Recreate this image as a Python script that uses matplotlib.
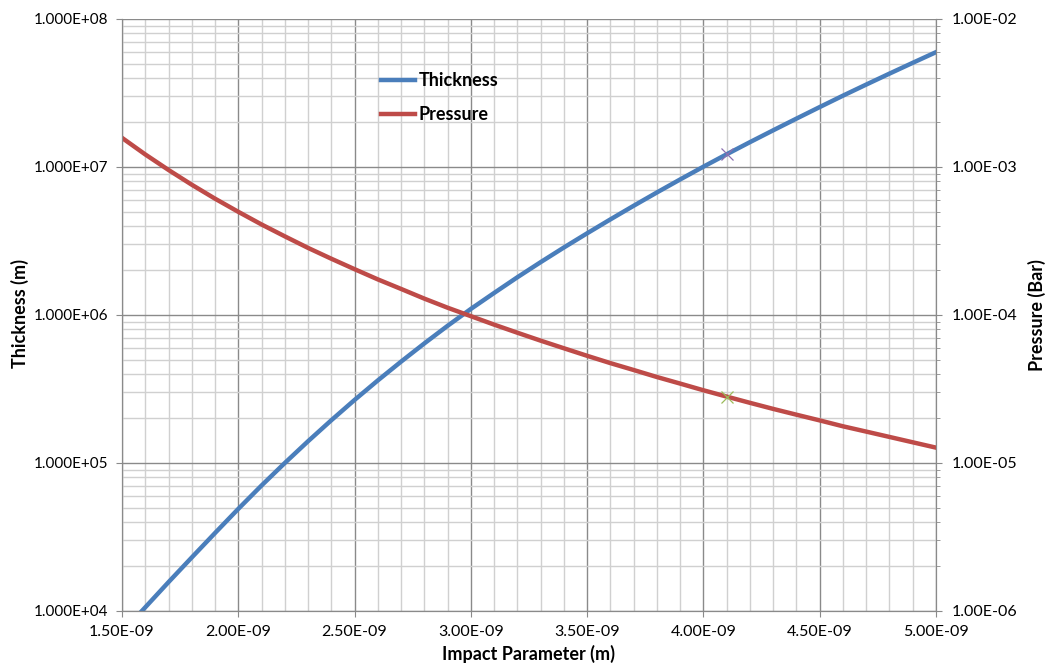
import numpy as np
import matplotlib
matplotlib.use('Agg')
import matplotlib.pyplot as plt
from matplotlib.ticker import FixedLocator, FuncFormatter, NullFormatter

plt.rcParams['font.family'] = ['Lato', 'DejaVu Sans']

# Dados
impact_parameter = np.array([1.5, 1.6, 1.7, 1.8, 1.9, 2.0, 2.1, 2.2, 2.3, 2.4, 2.5, 2.6,
                             2.7, 2.8, 2.9, 3.0, 3.1, 3.2, 3.3, 3.4, 3.5, 3.6, 3.7, 3.8,
                             3.9, 4.0, 4.1, 4.2, 4.3, 4.4, 4.5, 4.6, 4.7, 4.8, 4.9, 5.0]) * 1e-9

thickness = [7.16e3, 1.059e4, 1.567e4, 2.301e4, 3.365e4, 4.898e4, 7.047e4, 1.000e5, 1.403e5,
             1.945e5, 2.667e5, 3.614e5, 4.842e5, 6.427e5, 8.453e5, 1.099e6, 1.409e6, 1.799e6,
             2.275e6, 2.858e6, 3.565e6, 4.426e6, 5.470e6, 6.730e6, 8.241e6, 1.005e7, 1.219e7,
             1.472e7, 1.770e7, 2.123e7, 2.541e7, 3.034e7, 3.606e7, 4.276e7, 5.058e7, 5.970e7]

pressure = [1.574e-3, 1.216e-3, 9.55e-4, 7.59e-4, 6.11e-4, 4.98e-4, 4.09e-4, 3.40e-4, 2.84e-4,
            2.40e-4, 2.04e-4, 1.74e-4, 1.50e-4, 1.29e-4, 1.12e-4, 9.82e-5, 8.61e-5, 7.59e-5,
            6.71e-5, 5.96e-5, 5.30e-5, 4.73e-5, 4.25e-5, 3.81e-5, 3.44e-5, 3.10e-5, 2.81e-5,
            2.55e-5, 2.32e-5, 2.12e-5, 1.94e-5, 1.77e-5, 1.63e-5, 1.50e-5, 1.38e-5, 1.27e-5]

x_ticks = [1.5e-9, 2.0e-9, 2.5e-9, 3.0e-9, 3.5e-9, 4.0e-9, 4.5e-9, 5.0e-9]
x_minor = [v * 1e-10 for v in range(15, 51)]
thick_ticks = [1e4, 1e5, 1e6, 1e7, 1e8]
press_ticks = [1e-6, 1e-5, 1e-4, 1e-3, 1e-2]

marker_x = 4.1e-9
idx = int(np.argmin(np.abs(impact_parameter - marker_x)))

blue = '#4a7ebb'
red = '#be4b48'
major_grid = '#8a8a8a'
minor_grid = '#d0d0d0'


def log_minor(majors):
    return [m * k for m in majors[:-1] for k in range(2, 10)]


fig = plt.figure(figsize=(10.47, 6.63), dpi=100)
ax = fig.add_axes([122 / 1047, 1 - 611 / 663, 814 / 1047, 592 / 663])
ax2 = ax.twinx()

ax.set_xlim(1.5e-9, 5.0e-9)
ax.set_yscale('log')
ax.set_ylim(1e4, 1e8)
ax2.set_yscale('log')
ax2.set_ylim(1e-6, 1e-2)

# Grade
ax.xaxis.set_major_locator(FixedLocator(x_ticks))
ax.xaxis.set_minor_locator(FixedLocator(x_minor))
ax.yaxis.set_major_locator(FixedLocator(thick_ticks))
ax.yaxis.set_minor_locator(FixedLocator(log_minor(thick_ticks)))
ax.yaxis.set_minor_formatter(NullFormatter())
ax2.yaxis.set_major_locator(FixedLocator(press_ticks))
ax2.yaxis.set_minor_locator(FixedLocator(log_minor(press_ticks)))
ax2.yaxis.set_minor_formatter(NullFormatter())

ax.grid(True, which='minor', color=minor_grid, linewidth=1.0)
ax.grid(True, which='major', color=major_grid, linewidth=1.0)
ax.set_axisbelow(True)

ax.xaxis.set_major_formatter(FuncFormatter(lambda v, p: f'{v:.2E}'))
ax.yaxis.set_major_formatter(FuncFormatter(lambda v, p: f'{v:.3E}'))
ax2.yaxis.set_major_formatter(FuncFormatter(lambda v, p: f'{v:.2E}'))

ax.tick_params(axis='x', which='major', length=4, color=major_grid, labelsize=11.5, pad=6)
ax.tick_params(axis='x', which='minor', length=0)
ax.tick_params(axis='y', which='major', length=4, color=major_grid, labelsize=11, pad=6)
ax.tick_params(axis='y', which='minor', length=0)
ax2.tick_params(axis='y', which='major', length=4, color=major_grid, labelsize=11.5, pad=7)
ax2.tick_params(axis='y', which='minor', length=3, color=major_grid)

for a in (ax, ax2):
    for s in a.spines.values():
        s.set_color(major_grid)
    a.spines['top'].set_visible(False)

# Curvas
l1, = ax.plot(impact_parameter, thickness, color=blue, linewidth=3.2, label='Thickness')
l2, = ax2.plot(impact_parameter, pressure, color=red, linewidth=3.2, label='Pressure')
ax.plot(impact_parameter[idx], thickness[idx], marker='x', markersize=9,
        markeredgecolor='#8a6fb0', markeredgewidth=0.9, linestyle='none')
ax2.plot(impact_parameter[idx], pressure[idx], marker='x', markersize=9,
         markeredgecolor='#9bbb59', markeredgewidth=0.9, linestyle='none')

leg = ax2.legend(handles=[l1, l2], loc='upper left', bbox_to_anchor=(0.298, 0.938),
                 frameon=False, prop={'weight': 'bold', 'size': 13},
                 handlelength=1.9, handletextpad=0.2, labelspacing=0.95)

fig.text(20 / 1047, 1 - 314 / 663, 'Thickness (m)', rotation=90, ha='center', va='center',
         fontweight='bold', fontsize=13)
fig.text(1037 / 1047, 1 - 315 / 663, 'Pressure (Bar)', rotation=90, ha='center', va='center',
         fontweight='bold', fontsize=13)
fig.text(528 / 1047, 1 - 654 / 663, 'Impact Parameter (m)', ha='center', va='center',
         fontweight='bold', fontsize=13)

fig.savefig('out.png', dpi=100)
